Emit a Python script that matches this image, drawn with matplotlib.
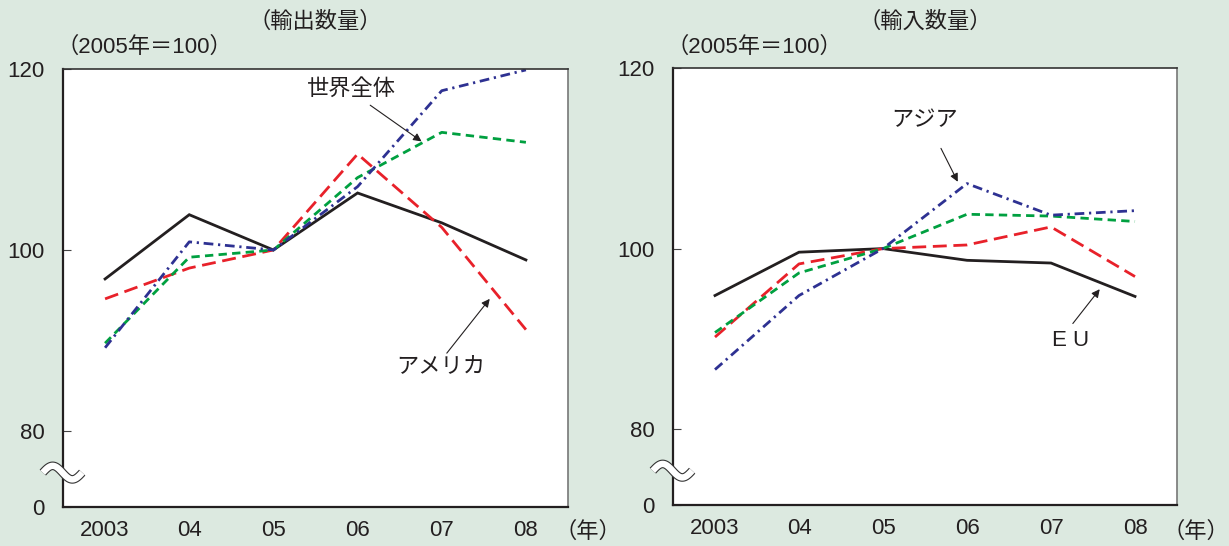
import numpy as np
import matplotlib
matplotlib.use('Agg')
import matplotlib.pyplot as plt
from matplotlib.transforms import blended_transform_factory

plt.rcParams['font.family'] = ['Liberation Sans', 'Noto Sans CJK JP', 'DejaVu Sans']

years = [2003, 2004, 2005, 2006, 2007, 2008]
year_labels = ['2003', '04', '05', '06', '07', '08']

# 輸出数量 (2005年=100)
exp_black = [96.8, 103.9, 100.0, 106.3, 103.0, 98.9]
exp_red = [94.6, 98.0, 100.0, 110.6, 102.5, 91.2]
exp_green = [89.7, 99.2, 100.0, 108.0, 113.0, 111.9]
exp_blue = [89.2, 100.9, 100.0, 107.0, 117.6, 119.9]

# 輸入数量 (2005年=100)
imp_black = [94.8, 99.6, 100.0, 98.7, 98.4, 94.7]
imp_red = [90.2, 98.3, 100.0, 100.4, 102.4, 96.9]
imp_green = [90.7, 97.3, 100.0, 103.8, 103.6, 103.0]
imp_blue = [86.6, 94.8, 100.0, 107.2, 103.7, 104.2]

y_ticks = [80, 100, 120]
y_bottom = 71.6   # shown as "0" below the axis break

BG = '#dce9e0'
C_BLACK = '#231f20'
C_RED = '#e8212a'
C_GREEN = '#00a040'
C_BLUE = '#2e3192'
FS = 16

fig = plt.figure(figsize=(12.29, 5.46), dpi=100, facecolor=BG)
W, H = 1229, 546


def px_axes(x0, y0, x1, y1):
    return fig.add_axes([x0 / W, 1 - y1 / H, (x1 - x0) / W, (y1 - y0) / H])


def ftext(x, y, s, **kw):
    fig.text(x / W, 1 - y / H, s, fontsize=FS, color=C_BLACK, va='center', **kw)


def draw_panel(ax, black, red, green, blue):
    ax.set_facecolor('white')
    ax.plot(years, black, color=C_BLACK, lw=2.0, solid_joinstyle='miter')
    ax.plot(years, red, color=C_RED, lw=2.0, linestyle=(0, (5, 2.4)))
    ax.plot(years, green, color=C_GREEN, lw=2.0, linestyle=(0, (3, 1.9)))
    ax.plot(years, blue, color=C_BLUE, lw=2.0, linestyle=(0, (3.5, 1.7, 0.8, 1.7)))
    ax.set_xlim(2002.5, 2008.5)
    ax.set_ylim(y_bottom, 120)
    ax.set_xticks(years)
    ax.set_xticklabels(year_labels, fontsize=FS, color=C_BLACK)
    ax.set_yticks([y_bottom] + y_ticks)
    ax.set_yticklabels(['0'] + [str(v) for v in y_ticks], fontsize=FS, color=C_BLACK)
    ax.tick_params(axis='x', length=0, pad=9)
    ax.tick_params(axis='y', direction='in', length=6, width=0.8, pad=13, color='#444444')
    for s in ['left', 'bottom']:
        ax.spines[s].set_color(C_BLACK)
        ax.spines[s].set_linewidth(1.6)
    ax.spines['top'].set_color('#333333')
    ax.spines['top'].set_linewidth(1.2)
    ax.spines['right'].set_color('#777777')
    ax.spines['right'].set_linewidth(1.2)
    # axis break mark
    tr = blended_transform_factory(ax.transAxes, ax.transData)
    t = np.linspace(0, 1, 60)
    wx = -0.04 + 0.078 * t
    wy = 75.4 + 0.75 * np.sin(2 * np.pi * t)
    ax.plot(wx, wy, color='#333333', lw=6.2, transform=tr, clip_on=False,
            solid_capstyle='butt', zorder=5)
    ax.plot(wx, wy, color='white', lw=4.6, transform=tr, clip_on=False,
            solid_capstyle='butt', zorder=6)


arrow = dict(arrowstyle='-|>', color=C_BLACK, lw=0.8, mutation_scale=12, shrinkA=0, shrinkB=0)

ax1 = px_axes(63, 69, 568, 507)
draw_panel(ax1, exp_black, exp_red, exp_green, exp_blue)
ax1.annotate('', xy=(2006.76, 112.0), xytext=(2006.15, 116.0), arrowprops=arrow)
ax1.text(2005.93, 117.7, '世界全体', fontsize=FS, ha='center', va='center', color=C_BLACK)
ax1.annotate('', xy=(2007.57, 94.6), xytext=(2007.06, 88.6), arrowprops=arrow)
ax1.text(2006.99, 87.0, 'アメリカ', fontsize=FS, ha='center', va='center', color=C_BLACK)

ax2 = px_axes(673, 68, 1177, 505)
draw_panel(ax2, imp_black, imp_red, imp_green, imp_blue)
ax2.annotate('', xy=(2005.89, 107.4), xytext=(2005.69, 111.1), arrowprops=arrow)
ax2.text(2005.50, 114.2, 'アジア', fontsize=FS, ha='center', va='center', color=C_BLACK)
ax2.annotate('', xy=(2007.58, 95.5), xytext=(2007.26, 91.7), arrowprops=arrow)
ax2.text(2007.23, 89.8, 'E U', fontsize=FS, ha='center', va='center', color=C_BLACK)

ftext(315, 22, '（輸出数量）', ha='center')
ftext(925, 22, '（輸入数量）', ha='center')
ftext(56, 47, '（2005年＝100）', ha='left')
ftext(666, 47, '（2005年＝100）', ha='left')
ftext(588, 532, '（年）', ha='center')
ftext(1196, 532, '（年）', ha='center')

fig.savefig('out.png', dpi=100, facecolor=BG)
